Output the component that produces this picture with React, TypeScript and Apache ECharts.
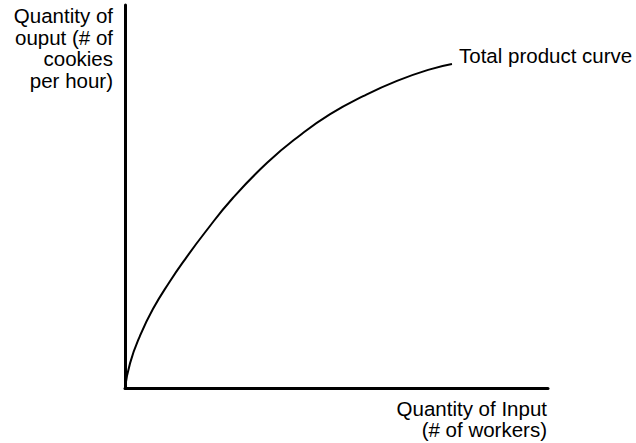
import React, { useEffect, useRef } from "react";
import * as echarts from "echarts";

const curveX = [0, 1.2, 3.5, 6.6, 10.6, 14.2, 18.9, 25.5, 33.6, 41.4, 48.5, 56.3, 64.3, 72.1, 77.3];
const curveY = [0, 6.5, 13.5, 20.6, 27.8, 33.6, 40.6, 49.6, 58.8, 66.0, 71.5, 76.2, 80.2, 83.2, 84.6];
const yLabelLines = ["Quantity of", "ouput (# of", "cookies", "per hour)"];
const xLabelLines = ["Quantity of Input", "(# of workers)"];
const curveLabel = "Total product curve";

const FONT = "Liberation Sans, Arial, Helvetica, sans-serif";

export default function App() {
  const ref = useRef<HTMLDivElement>(null);
  useEffect(() => {
    if (!ref.current) return;
    const chart = echarts.init(ref.current, undefined, { renderer: "svg" });
    const data = curveX.map((x, i) => [x, curveY[i]]);
    chart.setOption({
      animation: false,
      backgroundColor: "#ffffff",
      grid: { left: 125, top: 5, right: 88, bottom: 55 },
      xAxis: {
        type: "value",
        min: 0,
        max: 100,
        axisLine: { show: true, onZero: false, lineStyle: { color: "#000", width: 3 } },
        axisTick: { show: false },
        axisLabel: { show: false },
        splitLine: { show: false },
      },
      yAxis: {
        type: "value",
        min: 0,
        max: 100,
        axisLine: { show: true, onZero: false, lineStyle: { color: "#000", width: 3 } },
        axisTick: { show: false },
        axisLabel: { show: false },
        splitLine: { show: false },
      },
      series: [
        {
          type: "line",
          data,
          smooth: 0.5,
          showSymbol: false,
          lineStyle: { color: "#000", width: 2 },
        },
      ],
      graphic: [
        {
          type: "text",
          x: 113,
          y: 5,
          style: {
            text: yLabelLines.join("\n"),
            align: "right",
            verticalAlign: "top",
            lineHeight: 21.5,
            fontSize: 20.5,
            fontFamily: FONT,
            fill: "#000",
          },
        },
        {
          type: "text",
          x: 547,
          y: 398,
          style: {
            text: xLabelLines.join("\n"),
            align: "right",
            verticalAlign: "top",
            lineHeight: 21,
            fontSize: 20.5,
            fontFamily: FONT,
            fill: "#000",
          },
        },
        {
          type: "text",
          x: 459,
          y: 55,
          style: {
            text: curveLabel,
            align: "left",
            verticalAlign: "middle",
            fontSize: 20.5,
            fontFamily: FONT,
            fill: "#000",
          },
        },
      ],
    });
    return () => chart.dispose();
  }, []);
  return (
    <div
      ref={ref}
      style={{ position: "absolute", left: 0, top: 0, width: 636, height: 443 }}
    />
  );
}
